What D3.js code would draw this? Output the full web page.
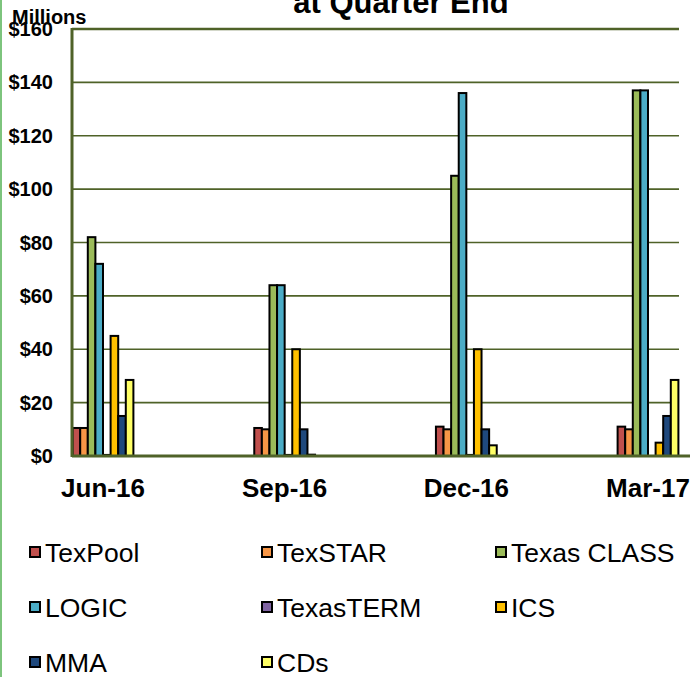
<!DOCTYPE html>
<html><head><meta charset="utf-8">
<script src="https://cdn.jsdelivr.net/npm/d3@7"></script>
<style>body{margin:0;background:#fff}svg{display:block}text{font-family:Arial,"Liberation Sans",sans-serif}</style>
</head><body>
<svg id="c" width="690" height="677"></svg>
<script>
const categories = ["Jun-16","Sep-16","Dec-16","Mar-17"];
const seriesNames = ["TexPool","TexSTAR","Texas CLASS","LOGIC","TexasTERM","ICS","MMA","CDs"];
const seriesColors = ["#C0504D","#F79646","#9BBB59","#4BACC6","#8064A2","#FFC000","#1F497D","#FFFF66"];
const texPool   = [10.5, 10.5, 11, 11];
const texStar   = [10.5, 10, 10, 10];
const texClass  = [82, 64, 105, 137];
const logic     = [72, 64, 136, 137];
const texTerm   = [0.4, 0.4, 0.4, 0];
const ics       = [45, 40, 40, 5];
const mma       = [15, 10, 10, 15];
const cds       = [28.5, 0.5, 4, 28.5];
const yTicks = [0,20,40,60,80,100,120,140,160];
const seriesValues = [texPool, texStar, texClass, logic, texTerm, ics, mma, cds];

const svg = d3.select("#c");
const pLeft = 72, pRight = 679, pTop = 29, pBottom = 456;
const y = d3.scaleLinear().domain([0,160]).range([pBottom, pTop]);
const x = d3.scalePoint().domain(categories).range([103, 648]);
const inner = d3.scaleBand().domain(seriesNames).range([-30.4, 30.4]).padding(0);
const olive = "#4F6228";

// frame left edge
svg.append("line").attr("x1",1).attr("x2",1).attr("y1",0).attr("y2",677).attr("stroke","#7DC47D").attr("stroke-width",2);

// gridlines
svg.append("g").selectAll("line").data(yTicks.filter(d=>d>0)).join("line")
  .attr("x1",pLeft).attr("x2",pRight).attr("y1",d=>y(d)).attr("y2",d=>y(d))
  .attr("stroke",olive).attr("stroke-width",d=>d===160?2.5:1.6);

// y tick labels
svg.append("g").selectAll("text").data(yTicks).join("text")
  .attr("x",53).attr("y",d=>y(d)+7).attr("text-anchor","end")
  .attr("font-size",20).attr("font-weight","bold").text(d=>"$"+d);

svg.append("text").attr("x",12).attr("y",24).attr("font-size",20).attr("font-weight","bold").text("Millions");

// title (second line visible)
svg.append("text").attr("x",401).attr("y",13).attr("text-anchor","middle")
  .attr("font-size",31).attr("font-weight","bold").text("at Quarter End");

// bars
const bars = svg.append("g");
seriesNames.forEach((s,i)=>{
  bars.selectAll(null).data(categories.map((c,j)=>({c,v:seriesValues[i][j]}))).join("rect")
    .attr("x",d=>x(d.c)+inner(s)).attr("width",inner.bandwidth())
    .attr("y",d=>y(d.v)).attr("height",d=>pBottom-y(d.v))
    .attr("fill",seriesColors[i]).attr("stroke","#000").attr("stroke-width",2);
});

// axes lines
svg.append("line").attr("x1",pLeft).attr("x2",pLeft).attr("y1",pTop-1).attr("y2",pBottom+1).attr("stroke",olive).attr("stroke-width",3);
svg.append("line").attr("x1",pLeft).attr("x2",690).attr("y1",pBottom).attr("y2",pBottom).attr("stroke",olive).attr("stroke-width",3);

// x labels
svg.append("g").selectAll("text").data(categories).join("text")
  .attr("x",d=>x(d)).attr("y",497).attr("text-anchor","middle")
  .attr("font-size",26).attr("font-weight","bold").text(d=>d);

// legend
const legTextX = [45, 277, 511], legY = [553, 608, 663];
const leg = svg.append("g");
seriesNames.forEach((s,i)=>{
  const tx = legTextX[i%3], cy = legY[Math.floor(i/3)];
  leg.append("rect").attr("x",tx-15).attr("y",cy-6).attr("width",10).attr("height",10)
    .attr("fill",seriesColors[i]).attr("stroke","#000").attr("stroke-width",2);
  leg.append("text").attr("x",tx).attr("y",cy+9)
    .attr("font-size",26.5).text(s);
});
</script>
</body></html>
